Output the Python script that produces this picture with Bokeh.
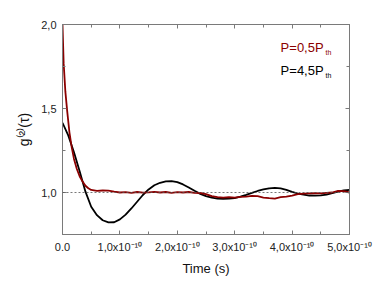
import numpy as np
from bokeh.plotting import figure
from bokeh.models import (LinearAxis, FixedTicker, CustomJSTickFormatter, Span,
                          Label, Range1d, CustomLabelingPolicy)
from bokeh.embed import file_html
from bokeh.resources import INLINE

# time in units of 1e-10 s
t_black = [0.0, 0.1, 0.2, 0.3, 0.4, 0.5, 0.6, 0.7, 0.8, 0.9, 1.0, 1.1, 1.2, 1.3,
           1.4, 1.5, 1.6, 1.7, 1.8, 1.9, 2.0, 2.1, 2.2, 2.3, 2.4, 2.5, 2.6, 2.7,
           2.8, 2.9, 3.0, 3.1, 3.2, 3.3, 3.4, 3.5, 3.6, 3.7, 3.8, 3.9, 4.0, 4.1,
           4.2, 4.3, 4.4, 4.5, 4.6, 4.7, 4.8, 4.9, 5.0]
g_black = [1.415, 1.34, 1.24, 1.125, 1.005, 0.915, 0.865, 0.835, 0.822, 0.823,
           0.84, 0.868, 0.905, 0.945, 0.985, 1.018, 1.043, 1.058, 1.066, 1.068,
           1.062, 1.048, 1.03, 1.01, 0.992, 0.978, 0.969, 0.964, 0.962, 0.963,
           0.967, 0.975, 0.986, 0.998, 1.009, 1.018, 1.025, 1.027, 1.024, 1.015,
           1.004, 0.994, 0.987, 0.982, 0.981, 0.983, 0.988, 0.996, 1.005, 1.012,
           1.016]

t_red = [0.0, 0.02, 0.05, 0.08, 0.12, 0.16, 0.2, 0.25, 0.3, 0.35, 0.4, 0.45,
         0.5, 0.6, 0.7, 0.8, 0.9, 1.0, 1.1, 1.2, 1.3, 1.4, 1.5, 1.6, 1.7, 1.8,
         1.9, 2.0, 2.1, 2.2, 2.3, 2.4, 2.5, 2.6, 2.7, 2.8, 2.9, 3.0, 3.1, 3.2,
         3.3, 3.4, 3.5, 3.6, 3.7, 3.8, 3.9, 4.0, 4.1, 4.2, 4.3, 4.4, 4.5, 4.6,
         4.7, 4.8, 4.9, 5.0]
g_red = [2.0, 1.77, 1.60, 1.49, 1.36, 1.27, 1.20, 1.14, 1.095, 1.065, 1.04,
         1.025, 1.015, 1.01, 1.012, 1.011, 1.005, 1.0, 1.002, 0.998, 1.003,
         0.999, 1.001, 1.004, 1.0, 1.003, 0.998, 1.002, 1.0, 1.003, 0.998,
         0.997, 0.99, 0.978, 0.972, 0.97, 0.972, 0.97, 0.974, 0.976, 0.98,
         0.978, 0.97, 0.966, 0.964, 0.972, 0.976, 0.982, 0.99, 0.993, 0.995,
         0.996, 0.995, 0.998, 1.0, 1.01, 1.008, 1.0]

x_major = [0, 1e-10, 2e-10, 3e-10, 4e-10, 5e-10]
x_minor = [0.5e-10, 1.5e-10, 2.5e-10, 3.5e-10, 4.5e-10]
y_major = [1.0, 1.5, 2.0]
y_minor = [0.75, 1.25, 1.75]

legend_texts = ["P=0,5P", "P=4,5P"]
legend_colors = ["#8b0000", "#000000"]

RED = "#8b0000"
FONT = "Liberation Sans"
AX = "#7a7a7a"

p = figure(width=376, height=280, output_backend="svg", toolbar_location=None,
           x_range=Range1d(0, 5e-10), y_range=Range1d(0.75, 2.0),
           min_border_left=62, min_border_right=27, min_border_top=24,
           min_border_bottom=46, x_axis_label="Time (s)",
           y_axis_label="g⁽²⁾(τ)")
p.grid.visible = False
p.outline_line_color = AX

no_labels = CustomLabelingPolicy(code="""
for (const i of indices)
    indices.unset(i)
return indices
""")
p.add_layout(LinearAxis(major_label_policy=no_labels), "above")
p.add_layout(LinearAxis(major_label_policy=no_labels), "right")

xfmt = CustomJSTickFormatter(code="""
if (Math.abs(tick) < 1e-20) return '0.0';
const m = tick / 1e-10;
return m.toFixed(1).replace('.', ',') + 'x10⁻¹⁰';
""")
yfmt = CustomJSTickFormatter(code="return tick.toFixed(1).replace('.', ',');")

for ax in p.xaxis:
    ax.ticker = FixedTicker(ticks=x_major, minor_ticks=x_minor)
    ax.formatter = xfmt
for ax in p.yaxis:
    ax.ticker = FixedTicker(ticks=y_major, minor_ticks=y_minor)
    ax.formatter = yfmt

for ax in p.axis:
    ax.axis_line_color = AX
    ax.major_tick_line_color = AX
    ax.minor_tick_line_color = AX
    ax.major_tick_in = 4
    ax.major_tick_out = 0
    ax.minor_tick_in = 3
    ax.minor_tick_out = 0
    ax.major_label_text_font = FONT
    ax.major_label_text_font_size = "11px"
    ax.major_label_text_color = "#222222"
    ax.axis_label_text_font = FONT
    ax.axis_label_text_font_size = "13px"
    ax.axis_label_text_font_style = "normal"
    ax.axis_label_text_color = "#111111"
    ax.major_label_standoff = 6

p.xaxis[0].axis_label_standoff = 4
p.yaxis[0].axis_label_standoff = 6
p.yaxis[0].axis_label_text_font_size = "14px"

p.add_layout(Span(location=1.0, dimension="width", line_color="#555555",
                  line_dash="2 2", line_width=0.8))

tb = np.array(t_black) * 1e-10
tr = np.array(t_red) * 1e-10
p.line(tb, g_black, line_color="#000000", line_width=1.8)
p.line(tr, g_red, line_color=RED, line_width=1.8)

lx = 3.8e-10
ly = [1.863, 1.728]
for txt, col, yy in zip(legend_texts, legend_colors, ly):
    p.add_layout(Label(x=lx, y=yy, text=txt, text_color=col, text_font=FONT,
                       text_font_size="13px", text_baseline="alphabetic"))
    p.add_layout(Label(x=lx, y=yy, x_offset=45, y_offset=-5, text="th",
                       text_color=col, text_font=FONT, text_font_size="7px",
                       text_baseline="alphabetic"))

open("out.html", "w").write(file_html(p, INLINE))
